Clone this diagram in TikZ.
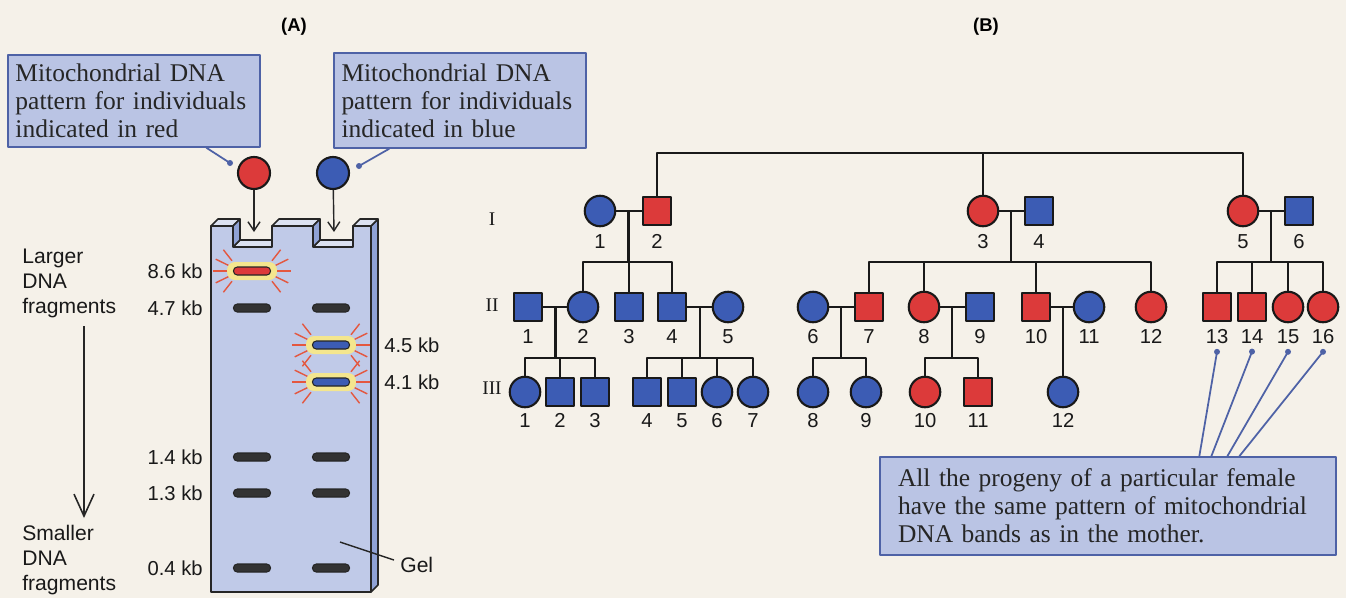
\documentclass[tikz,border=0pt]{standalone}
\usepackage{fontspec}
\setmainfont{Liberation Serif}
\setsansfont{Liberation Sans}
\usetikzlibrary{arrows.meta,positioning,calc}

\definecolor{paper}{HTML}{F5F1E9}
\definecolor{mtred}{HTML}{DC3A3A}
\definecolor{mtblue}{HTML}{3C5CB4}
\definecolor{notefill}{HTML}{BAC4E4}
\definecolor{noteline}{HTML}{4E62A6}
\definecolor{gelfront}{HTML}{C0CAE8}
\definecolor{gelside}{HTML}{8FA2D6}
\definecolor{geltop}{HTML}{DCE2F2}
\definecolor{halocol}{HTML}{F4E68E}
\definecolor{raycol}{HTML}{E4573F}

% a band that lights up in one lane: x, y, band colour
\newcommand{\glowband}[3]{%
  \fill[halocol, rounded corners=1.6mm] (#1-25,#2-9) rectangle (#1+25,#2+9);
  \foreach \a in {128,154,180,206,232} {
    \draw[ray] ($(#1-12,#2)+(\a:13)$) -- ($(#1-12,#2)+(\a:27)$);
    \draw[ray] ($(#1+12,#2)+(180-\a:13)$) -- ($(#1+12,#2)+(180-\a:27)$);
  }
  \node[band, fill=#3] at (#1,#2) {};
}

\begin{document}
\begin{tikzpicture}[x=0.2mm, y=-0.2mm, line join=round,
    ped/.style={draw=black!90, line width=1.6pt},
    sym/.style={draw=black!90, line width=1.2pt, inner sep=0pt},
    female/.style={sym, circle, minimum size=6.1mm},
    male/.style={sym, rectangle, minimum size=5.6mm},
    num/.style={font=\sffamily\fontsize{11.5}{13}\selectfont, inner sep=1pt, anchor=base, text=black!90},
    gen/.style={font=\fontsize{11}{12}\selectfont, text=black!90},
    note/.style={draw=noteline, fill=notefill, line width=0.8pt, align=left,
      inner xsep=1.5mm, font=\fontsize{14.5}{16}\selectfont, text=black!85},
    lead/.style={draw=noteline, line width=1pt},
    kb/.style={font=\sffamily\fontsize{11.5}{13}\selectfont, inner sep=0pt, text=black!90},
    side/.style={font=\sffamily\fontsize{12}{14.2}\selectfont, align=left, inner sep=0pt, text=black!90},
    band/.style={draw=black!85, line width=0.6pt, fill=black!80, rounded corners=0.75mm,
      minimum width=7.4mm, minimum height=1.6mm, inner sep=0pt},
    ray/.style={draw=raycol, line width=0.8pt},
    gelface/.style={draw=black!85, line width=0.9pt},
    load/.style={draw=black!85, line width=0.8pt, -{Straight Barb[length=1.8mm,width=2.4mm]}},
    drift/.style={draw=black!85, line width=0.9pt, -{Straight Barb[length=4.4mm,width=4mm]}},
    title/.style={font=\sffamily\bfseries\fontsize{10.5}{12}\selectfont}]

  \useasboundingbox (0,0) rectangle (1346,598);
  \fill[paper] (0,0) rectangle (1346,598);

  \node[title] (ta) at (294,27) {(A)};
  \node[title] (tb) at (986,27) {(B)};

  % ---- (A) the gel ----
  \node[note, text width=47.4mm, minimum height=18.4mm] (redtag) at (134,101)
    {Mitochondrial DNA\\pattern for individuals\\indicated in red};
  \node[note, text width=47.4mm, minimum height=19mm] (bluetag) at (460,100.5)
    {Mitochondrial DNA\\pattern for individuals\\indicated in blue};

  \node[sym, circle, minimum size=6.4mm, fill=mtred] (redspot) at (254,173) {};
  \node[sym, circle, minimum size=6.4mm, fill=mtblue] (bluespot) at (333,173) {};
  \coordinate (rdot) at (230,163);
  \coordinate (bdot) at (359,166);
  \draw[lead] ([xshift=39.8mm]redtag.south west) -- (rdot);
  \draw[lead] ([xshift=11.2mm]bluetag.south west) -- (bdot);
  \fill[noteline] (rdot) circle (0.6mm);
  \fill[noteline] (bdot) circle (0.6mm);

  \coordinate (well1) at (254,232);
  \coordinate (well2) at (334,232);
  \draw[load] (redspot) -- (well1);
  \draw[load] (bluespot) -- (well2);

  % slab: side and top faces first, front face over them
  \filldraw[gelface, fill=gelside] (371,592) -- (371,226) -- (378,219) -- (378,585) -- cycle;
  \filldraw[gelface, fill=geltop] (211,226) -- (218,219) -- (240,219) -- (233,226) -- cycle;
  \filldraw[gelface, fill=geltop] (272,226) -- (279,219) -- (320,219) -- (313,226) -- cycle;
  \filldraw[gelface, fill=geltop] (353,226) -- (360,219) -- (378,219) -- (371,226) -- cycle;
  \filldraw[gelface, fill=geltop] (233,247) -- (240,240) -- (279,240) -- (272,247) -- cycle;
  \filldraw[gelface, fill=geltop] (313,247) -- (320,240) -- (360,240) -- (353,247) -- cycle;
  \filldraw[gelface, fill=gelside] (233,226) -- (240,219) -- (240,240) -- (233,247) -- cycle;
  \filldraw[gelface, fill=gelside] (313,226) -- (320,219) -- (320,240) -- (313,247) -- cycle;
  \filldraw[gelface, fill=gelfront] (211,592) -- (211,226) -- (233,226) -- (233,247)
    -- (272,247) -- (272,226) -- (313,226) -- (313,247) -- (353,247) -- (353,226)
    -- (371,226) -- (371,592) -- cycle;

  % bands
  \glowband{252}{271}{mtred}
  \glowband{331}{345}{mtblue}
  \glowband{331}{382}{mtblue}
  \foreach \y in {308,457,493,568} {
    \node[band] at (252,\y) {};
    \node[band] at (331,\y) {};
  }

  \node[kb, anchor=east] (k86) at (203,271) {8.6 kb};
  \node[kb, anchor=east] (k47) at (203,308) {4.7 kb};
  \node[kb, anchor=east] (k14) at (203,457) {1.4 kb};
  \node[kb, anchor=east] (k13) at (203,493) {1.3 kb};
  \node[kb, anchor=east] (k04) at (203,568) {0.4 kb};
  \node[kb, anchor=west] (k45) at (384,345) {4.5 kb};
  \node[kb, anchor=west] (k41) at (384,382) {4.1 kb};

  \node[side, anchor=west] (larger) at (22,283) {Larger\\DNA\\fragments};
  \node[side, anchor=west] (smaller) at (22,560) {Smaller\\DNA\\fragments};
  \coordinate (runtop) at (84,326);
  \coordinate (runend) at (84,518);
  \draw[drift] (runtop) -- (runend);

  \coordinate (gelpt) at (340,542);
  \node[side, anchor=west] (gel) at (400,565) {Gel};
  \draw[black!85, line width=0.8pt] (gelpt) -- ([shift={(-1.2mm,1mm)}]gel.west);

  % ---- (B) the pedigree ----
  \node[gen] (gI) at (492,219) {I};
  \node[gen] (gII) at (492,305) {II};
  \node[gen] (gIII) at (492,388) {III};

  \foreach \n/\x/\s/\c in {1/600/female/mtblue, 2/657/male/mtred, 3/983/female/mtred,
      4/1039/male/mtblue, 5/1243/female/mtred, 6/1299/male/mtblue} {
    \node[\s, fill=\c] (i\n) at (\x,211) {};
    \node[num] (li\n) at (\x,248) {\n};
  }

  \foreach \n/\x/\s/\c in {1/528/male/mtblue, 2/583/female/mtblue, 3/629/male/mtblue,
      4/672/male/mtblue, 5/728/female/mtblue, 6/813/female/mtblue, 7/869/male/mtred,
      8/924/female/mtred, 9/980/male/mtblue, 10/1036/male/mtred, 11/1089/female/mtblue,
      12/1151/female/mtred, 13/1217/male/mtred, 14/1252/male/mtred, 15/1288/female/mtred,
      16/1323/female/mtred} {
    \node[\s, fill=\c] (ii\n) at (\x,307) {};
    \node[num] (lii\n) at (\x,343) {\n};
  }

  \foreach \n/\x/\s/\c in {1/525/female/mtblue, 2/560/male/mtblue, 3/595/male/mtblue,
      4/647/male/mtblue, 5/682/male/mtblue, 6/717/female/mtblue, 7/753/female/mtblue,
      8/813/female/mtblue, 9/866/female/mtblue, 10/925/female/mtred, 11/978/male/mtred,
      12/1063/female/mtblue} {
    \node[\s, fill=\c] (iii\n) at (\x,392) {};
    \node[num] (liii\n) at (\x,427) {\n};
  }

  % top line joining the three first-generation couples
  \path (i3) ++(0,-58) coordinate (top);
  \draw[ped] (i2) |- (top) -| (i5);
  \draw[ped] (i3) -- (top);

  % couples and their children
  \foreach \a/\b/\kids in {i1/i2/{ii2,ii3,ii4}, ii1/ii2/{iii1,iii2,iii3},
      ii4/ii5/{iii4,iii5,iii6,iii7}, i3/i4/{ii7,ii8,ii10,ii12}, ii6/ii7/{iii8,iii9},
      ii8/ii9/{iii10,iii11}, i5/i6/{ii13,ii14,ii15,ii16}} {
    \draw[ped] (\a) -- (\b);
    \path ($(\a)!.5!(\b)$) coordinate (m) ++(0,51) coordinate (s);
    \draw[ped] (m) -- (s);
    \foreach \k in \kids
      \draw[ped] (\k) |- (s);
  }
  \draw[ped] (ii10) -- (ii11);
  \draw[ped] (iii12 |- ii10) -- (iii12);

  % note on the daughters of I-5
  \node[note, text width=84mm, inner xsep=3.6mm, minimum height=19.6mm] (progeny) at (1108,506)
    {All the progeny of a particular female\\have the same pattern of mitochondrial\\DNA bands as in the mother.};
  \foreach \n/\dx in {13/320,14/332,15/348,16/360} {
    \coordinate (d\n) at ([yshift=-1.3mm]lii\n.south);
    \draw[lead] (d\n) -- ($(progeny.north west)+(\dx,0)$);
    \fill[noteline] (d\n) circle (0.6mm);
  }
\end{tikzpicture}
\end{document}
